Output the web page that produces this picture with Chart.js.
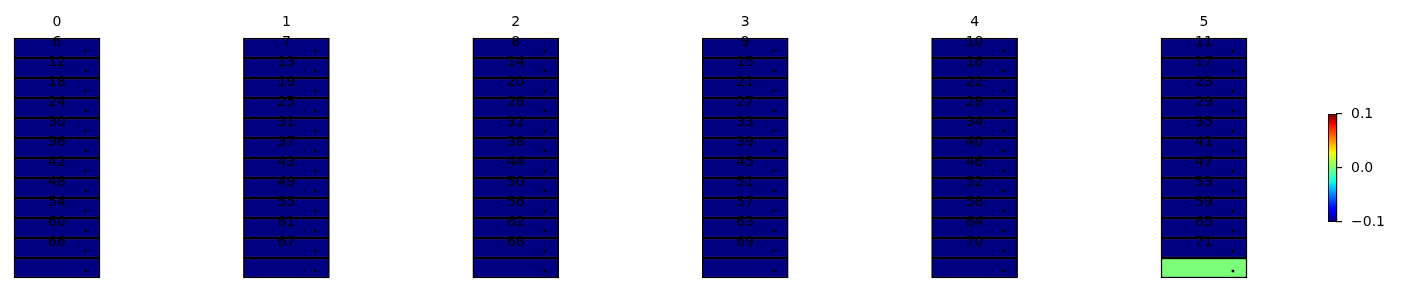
<!DOCTYPE html>
<html>
<head>
<meta charset="utf-8">
<script src="https://cdn.jsdelivr.net/npm/chart.js@4.4.0/dist/chart.umd.min.js"></script>
<style>
  html, body { margin: 0; padding: 0; background: #fff; overflow: hidden; }
  #wrap { position: relative; width: 1406px; height: 293px; }
  #cells { position: absolute; left: 0; top: 0; }
  #cbar { position: absolute; left: 1300px; top: 100px; }
</style>
</head>
<body>
<div id="wrap">
  <canvas id="cells" width="1406" height="293"></canvas>
  <canvas id="cbar" width="106" height="135"></canvas>
</div>
<script>
// Ruudukko: 6 saraketta x 12 riviä
const gridCols = [0, 1, 2, 3, 4, 5];
const gridRows = [0, 1, 2, 3, 4, 5, 6, 7, 8, 9, 10, 11];

// Ruutujen arvot riveittäin
const cellValues = [
  -0.1, -0.1, -0.1, -0.1, -0.1, -0.1,
  -0.1, -0.1, -0.1, -0.1, -0.1, -0.1,
  -0.1, -0.1, -0.1, -0.1, -0.1, -0.1,
  -0.1, -0.1, -0.1, -0.1, -0.1, -0.1,
  -0.1, -0.1, -0.1, -0.1, -0.1, -0.1,
  -0.1, -0.1, -0.1, -0.1, -0.1, -0.1,
  -0.1, -0.1, -0.1, -0.1, -0.1, -0.1,
  -0.1, -0.1, -0.1, -0.1, -0.1, -0.1,
  -0.1, -0.1, -0.1, -0.1, -0.1, -0.1,
  -0.1, -0.1, -0.1, -0.1, -0.1, -0.1,
  -0.1, -0.1, -0.1, -0.1, -0.1, -0.1,
  -0.1, -0.1, -0.1, -0.1, -0.1, 0.0,
];

// Ruutujen otsikot
const cellTitles = [
  "0", "1", "2", "3", "4", "5",
  "6", "7", "8", "9", "10", "11",
  "12", "13", "14", "15", "16", "17",
  "18", "19", "20", "21", "22", "23",
  "24", "25", "26", "27", "28", "29",
  "30", "31", "32", "33", "34", "35",
  "36", "37", "38", "39", "40", "41",
  "42", "43", "44", "45", "46", "47",
  "48", "49", "50", "51", "52", "53",
  "54", "55", "56", "57", "58", "59",
  "60", "61", "62", "63", "64", "65",
  "66", "67", "68", "69", "70", "71",
];

// Pieni merkki jokaisen ruudun sisällä (sarakeyksiköissä / rivin osuus)
const markerX = 0.126;
const markerY = 0.65;

// Väripalkki
const colorMin = -0.1;
const colorMax = 0.1;
const colorTicks = [-0.1, 0.0, 0.1];

// jet-värikartta
const jetSeg = {
  r: [[0, 0], [0.35, 0], [0.66, 1], [0.89, 1], [1, 0.5]],
  g: [[0, 0], [0.125, 0], [0.375, 1], [0.64, 1], [0.91, 0], [1, 0]],
  b: [[0, 0.5], [0.11, 1], [0.34, 1], [0.65, 0], [1, 0]],
};
const segAt = (seg, t) => {
  for (let i = 1; i < seg.length; i++) {
    if (t <= seg[i][0]) {
      const [t0, v0] = seg[i - 1];
      const [t1, v1] = seg[i];
      return v0 + (v1 - v0) * (t - t0) / (t1 - t0);
    }
  }
  return seg[seg.length - 1][1];
};
const jet = (t) => {
  t = Math.min(1, Math.max(0, t));
  const c = (s) => Math.round(255 * segAt(s, t));
  return `rgb(${c(jetSeg.r)}, ${c(jetSeg.g)}, ${c(jetSeg.b)})`;
};
const norm = (v) => (v - colorMin) / (colorMax - colorMin);

// Datat kaaviota varten
const cellData = [];
const markerData = [];
gridRows.forEach((r) => gridCols.forEach((c) => {
  cellData.push({ x: c, y: [r, r + 1] });
  markerData.push({ x: c + markerX, y: r + markerY });
}));
const cellColors = cellValues.map((v) => jet(norm(v)));

// Otsikot piirretään ruutujen yläpuolelle
const titlePlugin = {
  id: "cellTitles",
  afterDatasetsDraw(chart) {
    const { ctx, scales: { x, y } } = chart;
    ctx.save();
    ctx.font = '14px "DejaVu Sans"';
    ctx.fillStyle = "#000";
    ctx.textAlign = "center";
    ctx.textBaseline = "middle";
    gridRows.forEach((r) => gridCols.forEach((c) => {
      ctx.fillText(cellTitles[r * gridCols.length + c], x.getPixelForValue(c), y.getPixelForValue(r) - 16);
    }));
    ctx.restore();
  },
};

new Chart(document.getElementById("cells"), {
  type: "bar",
  data: {
    datasets: [
      {
        type: "bar",
        order: 2,
        data: cellData,
        backgroundColor: cellColors,
        borderColor: "#000",
        borderWidth: 1.5,
        borderSkipped: false,
        barThickness: 86,
      },
      {
        type: "scatter",
        order: 1,
        data: markerData,
        pointStyle: "rect",
        pointRadius: 1.8,
        borderWidth: 0,
        backgroundColor: "#000",
      },
    ],
  },
  options: {
    responsive: false,
    animation: false,
    events: [],
    layout: { autoPadding: false, padding: 0 },
    plugins: { legend: { display: false }, tooltip: { enabled: false } },
    scales: {
      x: { type: "linear", min: -0.2485, max: 5.8805, offset: false, display: false },
      y: { type: "linear", reverse: true, min: -1.9, max: 12.75, display: false },
    },
  },
  plugins: [titlePlugin],
});

// Väripalkki omana kaavionaan
const formatTick = (v) => {
  if (Math.abs(v) < 1e-9) return "0.0";
  return (v < 0 ? "\u2212" : "") + Math.abs(v).toFixed(1);
};

new Chart(document.getElementById("cbar"), {
  type: "bar",
  data: {
    labels: [""],
    datasets: [{
      data: [[colorMin, colorMax]],
      backgroundColor: (context) => {
        const area = context.chart.chartArea;
        if (!area) return jet(0.5);
        const g = context.chart.ctx.createLinearGradient(0, area.bottom, 0, area.top);
        for (let i = 0; i <= 64; i++) g.addColorStop(i / 64, jet(i / 64));
        return g;
      },
      borderColor: "#000",
      borderWidth: 1.2,
      borderSkipped: false,
      barPercentage: 1,
      categoryPercentage: 1,
    }],
  },
  options: {
    responsive: false,
    animation: false,
    events: [],
    layout: { autoPadding: false, padding: { left: 28, top: 14, bottom: 13, right: 0 } },
    plugins: { legend: { display: false }, tooltip: { enabled: false } },
    scales: {
      x: { display: false },
      y: {
        position: "right",
        min: colorMin,
        max: colorMax,
        afterBuildTicks: (scale) => { scale.ticks = colorTicks.map((v) => ({ value: v })); },
        afterFit: (scale) => {
          scale.width = 69;
          scale.paddingTop = 0;
          scale.paddingBottom = 0;
        },
        ticks: {
          color: "#000",
          font: { family: "DejaVu Sans", size: 14 },
          padding: 9,
          callback: (v) => formatTick(v),
        },
        grid: { drawOnChartArea: false, tickLength: 5, lineWidth: 1.2, color: "#000" },
        border: { color: "#000", width: 1.2 },
      },
    },
  },
});
</script>
</body>
</html>
